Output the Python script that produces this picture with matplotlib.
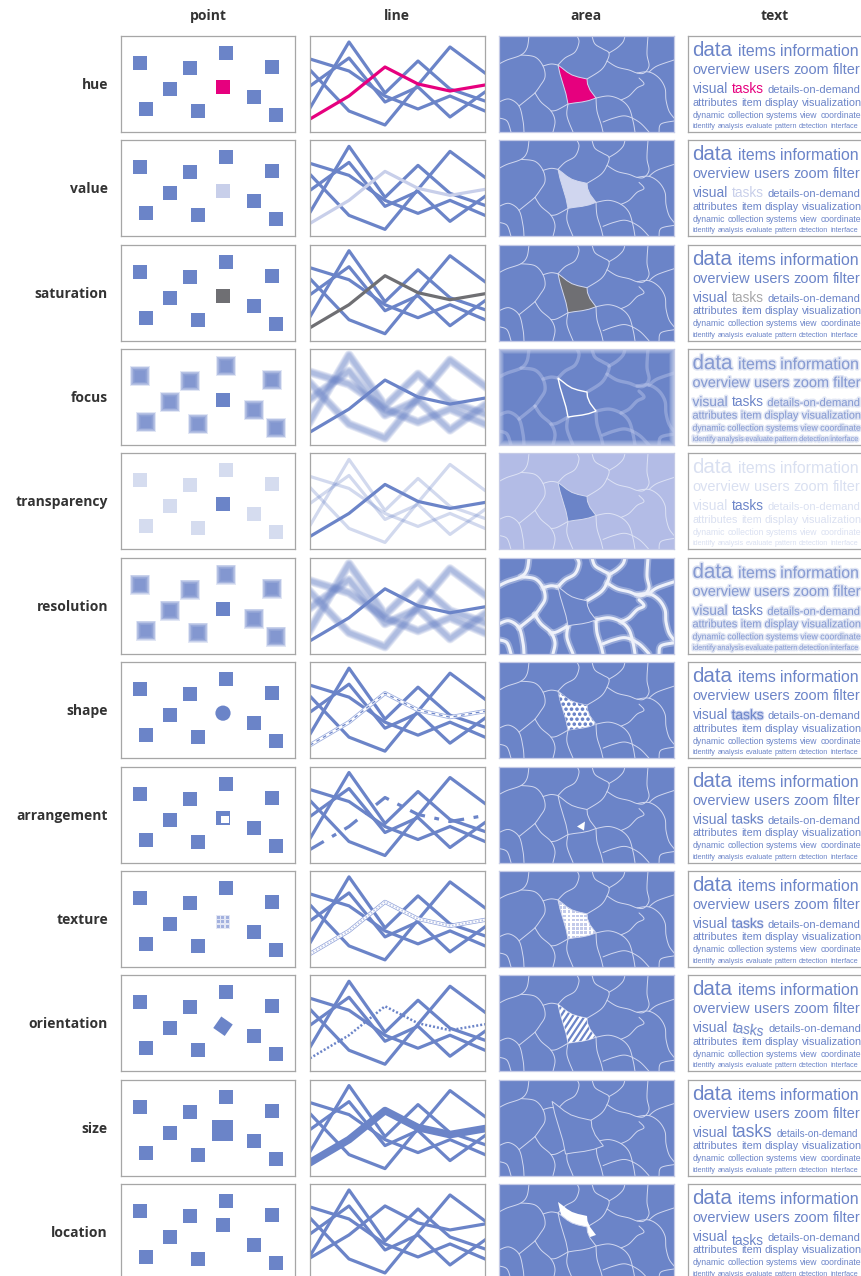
import numpy as np
import matplotlib
matplotlib.use('Agg')
import matplotlib.pyplot as plt
from matplotlib.patches import Rectangle, Circle, Polygon
import matplotlib.patheffects as pe

# ---------------- data ----------------
rows = ['hue', 'value', 'saturation', 'focus', 'transparency', 'resolution',
        'shape', 'arrangement', 'texture', 'orientation', 'size', 'location']
columns = ['point', 'line', 'area', 'text']

# point panel: square centres (panel pixels), index 5 is the highlighted one
point_x = [19, 69, 105, 151, 49, 102, 133, 25, 77, 155]
point_y = [27, 32, 17, 31, 53, 51, 61, 73, 75, 79]
hi_point = 5

# line panel: four background polylines + highlighted one
line_x = [0, 39, 75, 108, 140, 175]
line_a = [72, 6, 57, 25, 53, 65]
line_b = [50, 22, 66, 51, 81, 56]
line_c = [34, 75, 89, 49, 11, 37]
line_d = [23, 35, 60, 73, 60, 75]
line_hi = [83, 60, 31, 48, 55, 49]

# area panel: highlighted cell outline and the other cell borders
cell_x = [59, 63, 68, 73, 79, 88, 88.5, 91, 97, 90, 83, 75, 69, 67, 64, 61]
cell_y = [29, 32, 36, 39, 41, 43, 48, 54, 62, 64.5, 66, 67, 68, 58, 48, 38]
border_x = [
    [30, 28, 22, 8, 0],
    [22, 36, 44, 46, 41, 36],
    [0, 10, 20, 24, 25],
    [36, 42, 52, 56, 54],
    [59, 52, 44],
    [59, 66, 76, 80, 78],
    [93, 96, 104, 110, 108, 102, 88],
    [110, 118, 124, 126],
    [108, 118, 130, 138, 145, 150, 148, 149],
    [97, 110, 122, 130, 134, 136],
    [97, 98, 102, 104],
    [69, 68, 74],
    [69, 58, 52],
    [138, 150, 160, 166, 167, 170, 175],
    [150, 158, 175],
    [104, 115, 127, 140, 150],
    [122, 130, 138, 145, 140],
    [0, 8, 12],
    [160, 162, 175],
    [36, 30, 20],
]
border_y = [
    [0, 12, 19, 24, 28],
    [19, 21, 30, 41, 50, 57],
    [66, 63, 70, 85, 96],
    [57, 66, 75, 85, 96],
    [29, 28, 30],
    [29, 22, 16, 6, 0],
    [0, 8, 13, 17, 25, 34, 43],
    [17, 12, 6, 0],
    [25, 31, 34, 37, 37, 30, 18, 0],
    [62, 60, 64, 72, 85, 96],
    [62, 75, 88, 96],
    [68, 80, 96],
    [68, 74, 75],
    [37, 36, 42, 52, 64, 75, 82],
    [36, 30, 24],
    [86, 82, 80, 86, 96],
    [64, 60, 52, 48, 42],
    [82, 85, 96],
    [96, 88, 85],
    [57, 62, 70],
]

# text panel
words = [
    ['data', 'items', 'information'],
    ['overview', 'users', 'zoom', 'filter'],
    ['visual', 'tasks', 'details-on-demand'],
    ['attributes', 'item', 'display', 'visualization'],
    ['dynamic', 'collection', 'systems', 'view', 'coordinate'],
    ['identify', 'analysis', 'evaluate', 'pattern', 'detection', 'interface'],
]
hi_word = 'tasks'

# ---------------- style ----------------
BLUE = '#6b84c8'
PINK = '#e6007e'
LIGHT = '#c8cfea'
GREY = '#6f6f73'
EDGE = '#a6a6a6'
CELL_LINE = '#d2d8ef'

word_rel = [[20, 15.5, 15.5], [13] * 4, [13.5, 13.5, 11], [10] * 4, [8] * 5, [6.5] * 6]
word_base = [20, 38, 57, 69.5, 81.5, 92]
text_x0, text_x1 = 4.5, 172

W, H = 862, 1276
fig = plt.figure(figsize=(W / 100, H / 100), dpi=100)
renderer = fig.canvas.get_renderer()

col_left = [121, 310, 499, 688]
col_w = [174, 175, 175, 200]
ph = 96
row_top = [36 + i * 104.36 for i in range(len(rows))]


def measure(word, px):
    t = fig.text(0, 0, word, fontsize=px * 0.72, family='Liberation Sans')
    w = t.get_window_extent(renderer).width
    t.remove()
    return w


# scale each text line so that it spans the panel like the original
line_scale = []
for li, line in enumerate(words):
    natural = sum(measure(wd, px) for wd, px in zip(line, word_rel[li]))
    natural += sum(0.27 * px for px in word_rel[li][:-1])
    line_scale.append((text_x1 - text_x0) / natural)


def panel(x, y, w, h, edge=EDGE):
    ax = fig.add_axes([x / W, 1 - (y + h) / H, w / W, h / H])
    ax.set_xlim(0, w)
    ax.set_ylim(h, 0)
    ax.set_xticks([])
    ax.set_yticks([])
    for s in ax.spines.values():
        s.set_edgecolor(edge)
        s.set_linewidth(0.9)
    return ax


def smooth(xs, ys, n=10):
    pts = np.column_stack([xs, ys]).astype(float)
    if len(pts) < 3:
        return pts[:, 0], pts[:, 1]
    p = np.vstack([pts[0], pts, pts[-1]])
    out = []
    t = np.linspace(0, 1, n, endpoint=False)[:, None]
    for i in range(1, len(p) - 2):
        p0, p1, p2, p3 = p[i - 1], p[i], p[i + 1], p[i + 2]
        out.append(0.5 * (2 * p1 + (-p0 + p2) * t + (2 * p0 - 5 * p1 + 4 * p2 - p3) * t ** 2
                          + (-p0 + 3 * p1 - 3 * p2 + p3) * t ** 3))
    out.append(pts[-1][None])
    out = np.vstack(out)
    return out[:, 0], out[:, 1]


def square(ax, x, y, s, color, alpha=1.0, angle=0):
    ax.add_patch(Rectangle((x - s / 2, y - s / 2), s, s, fc=color, ec='none',
                           alpha=alpha, angle=angle, rotation_point='center'))


def soft_square(ax, x, y, s):
    for k in range(8):
        square(ax, x, y, s + 6 - 1.3 * k, BLUE, alpha=0.2)


# ---------------- point column ----------------
def draw_point(ax, mode):
    for i, (x, y) in enumerate(zip(point_x, point_y)):
        if i == hi_point:
            continue
        if mode in ('focus', 'resolution'):
            soft_square(ax, x, y, 14)
        elif mode == 'transparency':
            square(ax, x, y, 14, BLUE, alpha=0.28)
        else:
            square(ax, x, y, 14, BLUE)
    x, y = point_x[hi_point], point_y[hi_point]
    if mode == 'hue':
        square(ax, x, y, 14, PINK)
    elif mode == 'value':
        square(ax, x, y, 14, LIGHT)
    elif mode == 'saturation':
        square(ax, x, y, 14, GREY)
    elif mode == 'shape':
        ax.add_patch(Circle((x, y), 7.6, fc=BLUE, ec='none'))
    elif mode == 'arrangement':
        square(ax, x, y, 14, BLUE)
        square(ax, x + 2.2, y + 2.2, 7.4, 'white')
    elif mode == 'texture':
        square(ax, x, y, 14, '#e3e7f5')
        for gx in (-4.2, 0, 4.2):
            for gy in (-4.2, 0, 4.2):
                square(ax, x + gx, y + gy, 3, '#a3b1de')
    elif mode == 'orientation':
        square(ax, x, y, 14, BLUE, angle=35)
    elif mode == 'size':
        square(ax, x, y, 21, BLUE)
    elif mode == 'location':
        square(ax, x, y - 10, 14, BLUE)
    else:
        square(ax, x, y, 14, BLUE)


# ---------------- line column ----------------
def draw_line(ax, mode):
    lw = 2.3
    for ys in (line_a, line_b, line_c, line_d):
        if mode in ('focus', 'resolution'):
            for k in range(5):
                ax.plot(line_x, ys, color=BLUE, lw=lw + 4.5 - k, alpha=0.14,
                        solid_joinstyle='round')
        elif mode == 'transparency':
            ax.plot(line_x, ys, color=BLUE, lw=lw, alpha=0.3)
        else:
            ax.plot(line_x, ys, color=BLUE, lw=lw)
    hy = line_hi
    if mode == 'hue':
        ax.plot(line_x, hy, color=PINK, lw=lw)
    elif mode == 'value':
        ax.plot(line_x, hy, color=LIGHT, lw=lw)
    elif mode == 'saturation':
        ax.plot(line_x, hy, color=GREY, lw=lw)
    elif mode == 'shape':
        ax.plot(line_x, hy, color='#9fb0e0', lw=3)
        ax.plot(line_x, hy, color='white', lw=1.8)
        ax.plot(line_x, hy, color=BLUE, lw=0.9, ls=(0, (3, 3)))
    elif mode == 'arrangement':
        ax.plot(line_x, hy, color=BLUE, lw=lw, ls=(0, (5, 3, 1.5, 3)))
    elif mode == 'texture':
        ax.plot(line_x, hy, color='#8ea0d8', lw=3)
        ax.plot(line_x, hy, color='white', lw=2)
        ax.plot(line_x, hy, color='#b9c4e8', lw=1.2, ls=(0, (1, 1)))
    elif mode == 'orientation':
        ax.plot(line_x, hy, color=BLUE, lw=1.8, ls=(0, (0.8, 0.8)))
    elif mode == 'size':
        ax.plot(line_x, hy, color=BLUE, lw=5.5)
    elif mode == 'location':
        ax.plot(line_x, [v - 9 for v in hy], color=BLUE, lw=lw)
    else:
        ax.plot(line_x, hy, color=BLUE, lw=lw)


# ---------------- area column ----------------
def draw_borders(ax, color=CELL_LINE, lw=0.7, alpha=1.0):
    for bx, by in zip(border_x, border_y):
        sx, sy = smooth(bx, by)
        ax.plot(sx, sy, color=color, lw=lw, alpha=alpha, solid_capstyle='round')


def cell_patch(ax, fc, dx=0, dy=0, ec=CELL_LINE, lw=0.7, z=3):
    pts = np.column_stack([np.array(cell_x) + dx, np.array(cell_y) + dy])
    p = Polygon(pts, closed=True, fc=fc, ec=ec, lw=lw, zorder=z)
    ax.add_patch(p)
    return p


def draw_area(ax, mode):
    w = 175
    bg = '#b3bce6' if mode == 'transparency' else BLUE
    ax.add_patch(Rectangle((0, 0), w, ph, fc=bg, ec='none', zorder=0))
    if mode == 'focus':
        draw_borders(ax, color='#c4cdee', lw=2.4, alpha=0.4)
        for k in range(5):
            ax.add_patch(Rectangle((k, k), w - 2 * k, ph - 2 * k, fill=False,
                                   ec='white', lw=1.2, alpha=0.35 - 0.06 * k))
        cell_patch(ax, BLUE, ec='white', lw=1.0)
        return
    if mode == 'resolution':
        draw_borders(ax, color='white', lw=5, alpha=0.3)
        draw_borders(ax, color='#eef1fa', lw=2.2)
        cell_patch(ax, BLUE, ec=CELL_LINE, lw=0.7)
        return
    draw_borders(ax, color='#dde2f4' if mode == 'transparency' else CELL_LINE)
    if mode == 'hue':
        cell_patch(ax, PINK)
    elif mode == 'value':
        cell_patch(ax, '#d0d6ef')
    elif mode == 'saturation':
        cell_patch(ax, GREY)
    elif mode == 'transparency':
        cell_patch(ax, BLUE)
    elif mode == 'shape':
        clip = cell_patch(ax, 'white')
        for gx in np.arange(56, 100, 5.5):
            for j, gy in enumerate(np.arange(27, 70, 5)):
                c = Circle((gx + (2.75 if j % 2 else 0), gy), 1.8, fc=BLUE, ec='none', zorder=4)
                ax.add_patch(c)
                c.set_clip_path(clip)
    elif mode == 'arrangement':
        cell_patch(ax, BLUE)
        ax.add_patch(Polygon([(78, 60), (86, 55), (85, 64)], closed=True,
                             fc='white', ec='none', zorder=4))
    elif mode == 'texture':
        clip = cell_patch(ax, 'white')
        for gx in np.arange(56, 100, 4.2):
            for gy in np.arange(27, 70, 4.2):
                r = Rectangle((gx, gy), 2.8, 2.6, fc='#c3cbea', ec='none', zorder=4)
                ax.add_patch(r)
                r.set_clip_path(clip)
    elif mode == 'orientation':
        clip = cell_patch(ax, BLUE)
        for s in np.arange(20, 170, 6):
            ln, = ax.plot([s - 60, s], [90, 0], color='white', lw=2, zorder=4)
            ln.set_clip_path(clip)
    elif mode == 'size':
        cx, cy = np.mean(cell_x), np.mean(cell_y)
        pts = np.column_stack([cx + 1.35 * (np.array(cell_x) - cx),
                               cy + 1.35 * (np.array(cell_y) - cy)])
        ax.add_patch(Polygon(pts, closed=True, fc=BLUE, ec=CELL_LINE, lw=0.7, zorder=3))
    elif mode == 'location':
        cell_patch(ax, 'white', dy=-11, ec='none')
        cell_patch(ax, BLUE, z=4)


# ---------------- text column ----------------
def draw_text(ax, mode):
    for li, line in enumerate(words):
        x = text_x0
        after_hi = False
        for wi, wd in enumerate(line):
            px = word_rel[li][wi] * line_scale[li]
            y = word_base[li]
            color, alpha, rot = BLUE, 1.0, 0
            effects = None
            if wd == hi_word:
                if mode == 'hue':
                    color = PINK
                elif mode == 'value':
                    color = LIGHT
                elif mode == 'saturation':
                    color = '#a7a7a9'
                elif mode == 'size':
                    px *= 1.28
                elif mode == 'location':
                    y += 4
                elif mode == 'shape':
                    effects = [pe.withStroke(linewidth=1.6, foreground='#c9d1ee')]
                elif mode == 'arrangement':
                    effects = [pe.Normal(), pe.withStroke(linewidth=0.5, foreground='white')]
                elif mode == 'texture':
                    effects = [pe.Stroke(linewidth=0.8, foreground='#d5dbf2'), pe.Normal()]
                elif mode == 'orientation':
                    rot = -8
            else:
                if after_hi and mode == 'size':
                    px *= 0.88
                if mode in ('focus', 'resolution'):
                    alpha = 0.7
                    effects = [pe.Stroke(linewidth=2.2, foreground=BLUE, alpha=0.2), pe.Normal()]
                elif mode == 'transparency':
                    alpha = 0.25
            t = ax.text(x, y, wd, fontsize=px * 0.72, family='Liberation Sans',
                        va='baseline', ha='left', color=color, alpha=alpha,
                        rotation=rot, rotation_mode='anchor')
            if effects:
                t.set_path_effects(effects)
            x += t.get_window_extent(renderer).width + 0.27 * px
            if wd == hi_word:
                after_hi = True


for r, mode in enumerate(rows):
    top = row_top[r]
    draw_point(panel(col_left[0], top, col_w[0], ph), mode)
    draw_line(panel(col_left[1], top, col_w[1], ph), mode)
    draw_area(panel(col_left[2], top, col_w[2], ph, edge='#c4cae6'), mode)
    draw_text(panel(col_left[3], top, col_w[3], ph), mode)
    fig.text(108 / W, 1 - (top + 49) / H, mode, ha='right', va='center',
             fontsize=10, fontweight='bold', family='Open Sans', color='#333333')

for c, name in enumerate(columns):
    fig.text((col_left[c] + 87) / W, 1 - 16 / H, name, ha='center', va='center',
             fontsize=10, fontweight='bold', family='Open Sans', color='#333333')

fig.savefig('out.png', dpi=100)
